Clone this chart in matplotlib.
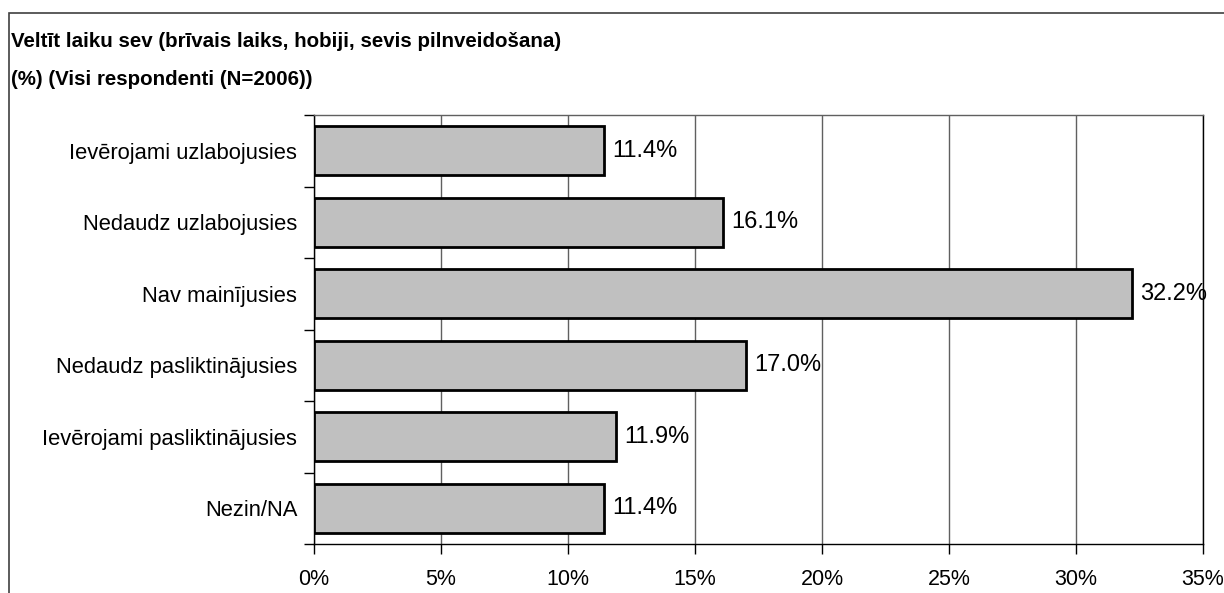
import matplotlib.pyplot as plt
from matplotlib.patches import Rectangle
from matplotlib.ticker import FixedLocator, FuncFormatter

categories = [
    "Ievērojami uzlabojusies",
    "Nedaudz uzlabojusies",
    "Nav mainījusies",
    "Nedaudz pasliktinājusies",
    "Ievērojami pasliktinājusies",
    "Nezin/NA",
]
values = [11.4, 16.1, 32.2, 17.0, 11.9, 11.4]
xticks = [0, 5, 10, 15, 20, 25, 30, 35]
title_lines = [
    "Veltīt laiku sev (brīvais laiks, hobiji, sevis pilnveidošana)",
    "(%) (Visi respondenti (N=2006))",
]

plt.rcParams['font.family'] = ['Liberation Sans', 'DejaVu Sans']

W, H = 1224, 593
fig = plt.figure(figsize=(W / 100, H / 100), dpi=100)
fig.patches.append(Rectangle((9 / W, -0.1), 1.2, 1 - 13 / H + 0.1,
                             transform=fig.transFigure, fill=False,
                             edgecolor='#404040', linewidth=1.2))
for i, line in enumerate(title_lines):
    fig.text(11 / W, 1 - (47 + 38 * i) / H, line, fontsize=14.8,
             fontweight='bold', va='baseline', ha='left')

ax = fig.add_axes([314 / W, 1 - 544 / H, (1203 - 314) / W, (544 - 115) / H])
ypos = list(range(len(categories)))
bars = ax.barh(ypos, values, height=0.68, color='#C0C0C0', edgecolor='black',
               linewidth=2, zorder=3)
for b, v in zip(bars, values):
    ax.text(v + 0.33, b.get_y() + b.get_height() / 2, f"{v:.1f}%",
            va='center', ha='left', fontsize=17, zorder=4)

ax.set_xlim(0, 35)
ax.set_ylim(len(categories) - 0.5, -0.5)
ax.set_xticks(xticks)
ax.xaxis.set_major_formatter(FuncFormatter(lambda x, _: f"{x:.0f}%"))
ax.grid(axis='x', color='#606060', linewidth=1, zorder=0)

ax.set_yticks(ypos)
ax.set_yticklabels(categories, fontsize=15.8)
ax.yaxis.set_minor_locator(FixedLocator([i - 0.5 for i in range(len(categories) + 1)]))
ax.tick_params(axis='y', which='major', length=0, pad=12)
ax.tick_params(axis='y', which='minor', length=7, width=1, direction='out')
ax.tick_params(axis='x', length=7, width=1, direction='out', labelsize=15.5, pad=11)

for s in ax.spines.values():
    s.set_color('black')
    s.set_linewidth(1)
ax.spines['top'].set_color('#606060')

fig.savefig('out.png', dpi=100)
